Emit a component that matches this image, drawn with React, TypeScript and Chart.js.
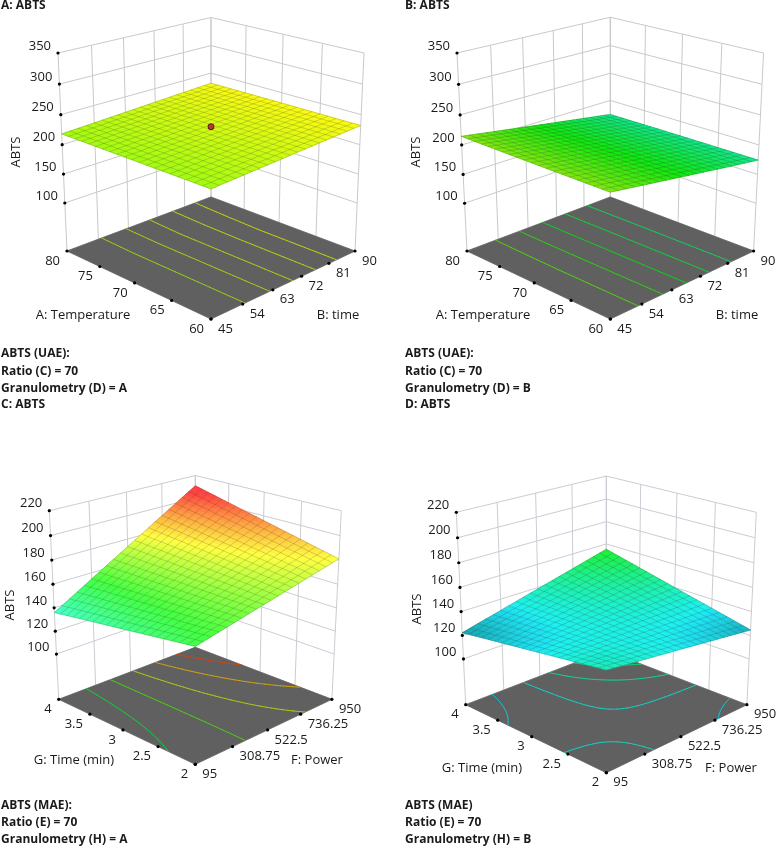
import React, { useEffect, useRef } from "react";
import { Chart, registerables } from "chart.js";

Chart.register(...registerables);

const temperatureTicks = [60, 65, 70, 75, 80];
const timeTicks = [45, 54, 63, 72, 81, 90];
const minutesTicks = [2, 2.5, 3, 3.5, 4];
const powerTicks = [95, 308.75, 522.5, 736.25, 950];
const abtsTicksUAE = [100, 150, 200, 250, 300, 350];
const abtsTicksMAE = [100, 120, 140, 160, 180, 200, 220];

// rows follow the first factor's ticks, columns the second factor's ticks
const surfaceA = [
  [218, 220.8, 223.6, 226.4, 229.2, 232],
  [218, 220.8, 223.6, 226.4, 229.2, 232],
  [218, 220.8, 223.6, 226.4, 229.2, 232],
  [218, 220.8, 223.6, 226.4, 229.1, 231.8],
  [218, 220.7, 223.5, 226.2, 229, 231.5],
];
const surfaceB = [
  [214, 206, 198, 190, 182, 174.5],
  [214, 206, 198, 190, 182, 174.5],
  [214, 206, 198, 190, 182, 174.5],
  [214.2, 206.1, 198, 190, 182, 174.3],
  [214.5, 206.3, 198.1, 190, 182, 174],
];
const surfaceC = [
  [153, 160, 167, 174, 181],
  [148.8, 158.7, 168.6, 178.6, 188.5],
  [144.5, 157.4, 170.3, 183.1, 196],
  [140.3, 156.1, 171.9, 187.7, 203.5],
  [136, 154.8, 173.5, 192.3, 211],
];
const surfaceD = [
  [139.7, 135.9, 132.2, 128.4, 124.6],
  [135.4, 134.6, 133.8, 133, 132.3],
  [131, 133.2, 135.5, 137.7, 139.9],
  [126.7, 131.9, 137.1, 142.3, 147.6],
  [122.3, 130.5, 138.8, 147, 155.2],
];
const contourLevelsA = [221, 223.3, 225.5, 227.8, 230];
const contourLevelsB = [207, 200.5, 194, 187.5, 181];
const contourLevelsC = [150, 162.5, 175, 187.5, 200];
const contourLevelsD = [128, 135, 141, 147];
const designPointA = { a: 70, b: 67.5, z: 230 };

const captionsTL = ["A: ABTS"];
const captionsTR = ["B: ABTS"];
const notesA = ["ABTS (UAE):", "Ratio (C) = 70", "Granulometry (D) = A", "C: ABTS"];
const notesB = ["ABTS (UAE):", "Ratio (C) = 70", "Granulometry (D) = B", "D: ABTS"];
const notesC = ["ABTS (MAE):", "Ratio (E) = 70", "Granulometry (H) = A"];
const notesD = ["ABTS (MAE)", "Ratio (E) = 70", "Granulometry (H) = B"];

const FONT = '"Open Sans"';
const TICK_FONT = `13px ${FONT}`;
const TITLE_FONT = `13px ${FONT}`;
const BOLD_FONT = `bold 12px ${FONT}`;

type P = { x: number; y: number };

type PanelCfg = {
  front: number[]; left: number[]; backY: number; topLeft: number[];
  zFloor: number; zTop: number;
  aTicks: number[]; bTicks: number[]; zTicks: number[];
  grid: number[][]; levels: number[];
  blue: number; step: number; gain: number; lift: number; wall: string;
  tMin: number; darkBelow: number; darkSpan: number; dark: number;
  aTitle: string; bTitle: string;
  aTitlePos: number[]; bTitlePos: number[]; zTitlePos: number[];
  notes: string[]; notesX: number; notesY: number[];
};

const panels: PanelCfg[] = [
  {
    front: [211, 319], left: [67, 251], backY: 197, topLeft: [58, 53], zFloor: 15, zTop: 350,
    aTicks: temperatureTicks, bTicks: timeTicks, zTicks: abtsTicksUAE, grid: surfaceA, levels: contourLevelsA,
    blue: 121, step: 37, gain: 0.92, lift: 0.06, wall: "#c9c9c9", tMin: 0, darkBelow: 0, darkSpan: 1, dark: 0,
    aTitle: "A: Temperature", bTitle: "B: time", aTitlePos: [83, 315], bTitlePos: [338, 315], zTitlePos: [16.5, 152],
    notes: notesA, notesX: 1, notesY: [354, 371.5, 389, 405],
  },
  {
    front: [610.3, 319], left: [467, 251], backY: 197, topLeft: [457, 53], zFloor: 15, zTop: 350,
    aTicks: temperatureTicks, bTicks: timeTicks, zTicks: abtsTicksUAE, grid: surfaceB, levels: contourLevelsB,
    blue: 121, step: 37, gain: 0.85, lift: 0.05, wall: "#c9c9c9", tMin: 0, darkBelow: 0, darkSpan: 1, dark: 0,
    aTitle: "A: Temperature", bTitle: "B: time", aTitlePos: [483, 315], bTitlePos: [737, 315], zTitlePos: [416, 152],
    notes: notesB, notesX: 405, notesY: [354, 371.5, 389, 405],
  },
  {
    front: [195.3, 764.3], left: [58.7, 699.3], backY: 647.3, topLeft: [49.3, 510.7], zFloor: 59.5, zTop: 220,
    aTicks: minutesTicks, bTicks: powerTicks, zTicks: abtsTicksMAE, grid: surfaceC, levels: contourLevelsC,
    blue: 103, step: 26, gain: 0.75, lift: 0.25, wall: "#cbcbd3", tMin: 0, darkBelow: 0, darkSpan: 1, dark: 0,
    aTitle: "G: Time (min)", bTitle: "F: Power", aTitlePos: [74, 760], bTitlePos: [317, 760], zTitlePos: [10.7, 605],
    notes: notesC, notesX: 1, notesY: [806, 823, 840],
  },
  {
    front: [606.3, 772.7], left: [465.7, 704.7], backY: 650.7, topLeft: [456.3, 512.3], zFloor: 60, zTop: 220,
    aTicks: minutesTicks, bTicks: powerTicks, zTicks: abtsTicksMAE, grid: surfaceD, levels: contourLevelsD,
    blue: 108, step: 25, gain: 0.84, lift: 0.1, wall: "#cbcbd3", tMin: 0.92, darkBelow: 131, darkSpan: 9, dark: 0.3,
    aTitle: "G: Time (min)", bTitle: "F: Power", aTitlePos: [482, 768], bTitlePos: [731, 768], zTitlePos: [417, 609],
    notes: notesD, notesX: 405, notesY: [806, 823, 840],
  },
];

function makeProjector(c: PanelCfg) {
  const F = c.front[1], L = c.left[1], B = c.backY, cx = c.front[0];
  const k = (2 * L - F - B) / (2 * (B - L));
  const p = L * (1 + k) - F;
  const W = (cx - c.left[0]) * (1 + k);
  const q = W / (cx - c.topLeft[0]);
  const m = q - 1 - k;
  const t = c.topLeft[1] * q - F - p;
  return (a: number, b: number, w: number): P => {
    const d = 1 + k * (a + b) + m * w;
    return { x: cx + (W * (b - a)) / d, y: (F + p * (a + b) + t * w) / d };
  };
}

function rainbow(t: number): number[] {
  const stops = [[0, 0, 255], [0, 255, 255], [0, 255, 0], [255, 255, 0], [255, 0, 0]];
  const v = Math.max(0, Math.min(3.999, t));
  const i = Math.floor(v), f = v - i;
  return stops[i].map((s, n) => s + (stops[i + 1][n] - s) * f);
}
function surfaceColor(c: PanelCfg, z: number) {
  const dim = 1 - c.dark * Math.max(0, Math.min(1, (c.darkBelow - z) / c.darkSpan));
  const t = Math.max(c.tMin, (z - c.blue) / c.step);
  const rgb = rainbow(t).map((v) => Math.round((v * c.gain + 255 * c.lift) * dim));
  return `rgb(${rgb[0]},${rgb[1]},${rgb[2]})`;
}
function lineColor(c: PanelCfg, z: number) {
  const rgb = rainbow(Math.max(c.tMin, (z - c.blue) / c.step)).map((v) => Math.round(v * 0.72 + 20));
  return `rgb(${rgb[0]},${rgb[1]},${rgb[2]})`;
}
function zAt(grid: number[][], a: number, b: number) {
  const ra = a * (grid.length - 1), rb = b * (grid[0].length - 1);
  const i = Math.min(grid.length - 2, Math.floor(ra)), j = Math.min(grid[0].length - 2, Math.floor(rb));
  const u = ra - i, v = rb - j;
  return (
    grid[i][j] * (1 - u) * (1 - v) + grid[i + 1][j] * u * (1 - v) +
    grid[i][j + 1] * (1 - u) * v + grid[i + 1][j + 1] * u * v
  );
}
const GAP: P = { x: NaN, y: NaN };
const frac = (ticks: number[], v: number) => (v - ticks[0]) / (ticks[ticks.length - 1] - ticks[0]);
// a non-empty dash keeps Chart.js off its x-sorted fast path, which would merge these unsorted segments
const SOLID = [100000, 0];

function buildPanel(c: PanelCfg) {
  const proj = makeProjector(c);
  const wOf = (z: number) => (z - c.zFloor) / (c.zTop - c.zFloor);
  const datasets: any[] = [];
  const labels: any[] = [];

  // walls
  const wall: P[] = [];
  const seg = (a: P, b: P) => wall.push(a, b, GAP);
  c.zTicks.forEach((z) => {
    const w = wOf(z);
    seg(proj(1, 0, w), proj(1, 1, w));
    seg(proj(1, 1, w), proj(0, 1, w));
  });
  c.bTicks.forEach((v) => { const b = frac(c.bTicks, v); seg(proj(1, b, 0), proj(1, b, 1)); });
  c.aTicks.forEach((v) => { const a = frac(c.aTicks, v); seg(proj(a, 1, 0), proj(a, 1, 1)); });
  datasets.push({ type: "scatter", data: wall, showLine: true, borderColor: c.wall, borderWidth: 1, borderDash: SOLID, pointRadius: 0 });

  // floor
  const floor = [proj(0, 0, 0), proj(1, 0, 0), proj(1, 1, 0), proj(0, 1, 0)];
  datasets.push({
    type: "scatter", data: [...floor, floor[0]], showLine: true, borderColor: "#606060", borderWidth: 0.5, borderDash: SOLID, pointRadius: 0,
    patches: [{ pts: floor, color: "#606060" }],
  });

  // floor contours
  const N = 40;
  c.levels.forEach((lv) => {
    const pts: P[] = [];
    for (let i = 0; i < N; i++) for (let j = 0; j < N; j++) {
      const a0 = i / N, a1 = (i + 1) / N, b0 = j / N, b1 = (j + 1) / N;
      const corners = [[a0, b0], [a1, b0], [a1, b1], [a0, b1]];
      const hits: P[] = [];
      for (let e = 0; e < 4; e++) {
        const s = corners[e], f = corners[(e + 1) % 4];
        const zs = zAt(c.grid, s[0], s[1]) - lv, zf = zAt(c.grid, f[0], f[1]) - lv;
        // classify by side, so a level that lands exactly on a node still yields both crossings
        if (zs >= 0 !== zf >= 0) {
          const r = zs / (zs - zf);
          hits.push(proj(s[0] + (f[0] - s[0]) * r, s[1] + (f[1] - s[1]) * r, 0));
        }
      }
      // descending x so Chart.js does not take the data for x-sorted and cut it to a "visible" slice
      if (hits.length >= 2) {
        if (hits[0].x >= hits[1].x) pts.push(hits[0], hits[1], GAP);
        else pts.push(hits[1], hits[0], GAP);
      }
    }
    datasets.push({
      type: "scatter", data: pts, showLine: true, borderColor: lineColor(c, lv), borderWidth: 1,
      borderDash: SOLID, borderCapStyle: "round", pointRadius: 0,
    });
  });

  // surface fill + mesh
  const CELLS = 20, SUB = 2, M = CELLS * SUB;
  const patches: any[] = [];
  const sp = (a: number, b: number) => proj(a, b, wOf(zAt(c.grid, a, b)));
  for (let i = 0; i < M; i++) for (let j = 0; j < M; j++) {
    const a0 = i / M, a1 = (i + 1) / M, b0 = j / M, b1 = (j + 1) / M;
    patches.push({
      pts: [sp(a0, b0), sp(a1, b0), sp(a1, b1), sp(a0, b1)],
      color: surfaceColor(c, zAt(c.grid, (a0 + a1) / 2, (b0 + b1) / 2)),
    });
  }
  const mesh: P[] = [];
  for (let i = 0; i <= CELLS; i++) {
    for (let j = 0; j <= CELLS; j++) mesh.push(sp(j / CELLS, i / CELLS));
    mesh.push(GAP);
    for (let j = 0; j <= CELLS; j++) mesh.push(sp(i / CELLS, j / CELLS));
    mesh.push(GAP);
  }
  datasets.push({
    type: "scatter", data: mesh, showLine: true, borderColor: "rgba(40,40,20,0.24)", borderWidth: 0.8,
    borderDash: SOLID, pointRadius: 0, patches,
  });

  // tick dots and labels
  const dots: P[] = [];
  c.zTicks.forEach((z) => {
    const d = proj(1, 0, wOf(z));
    dots.push(d);
    labels.push({ text: String(z), x: d.x - 7, y: d.y - 7, align: "right", font: TICK_FONT });
  });
  c.aTicks.forEach((v) => {
    const d = proj(frac(c.aTicks, v), 0, 0);
    dots.push(d);
    labels.push({ text: String(v), x: d.x - 7, y: d.y + 10, align: "right", font: TICK_FONT });
  });
  c.bTicks.forEach((v) => {
    const d = proj(0, frac(c.bTicks, v), 0);
    dots.push(d);
    labels.push({ text: String(v), x: d.x + 7, y: d.y + 10, align: "left", font: TICK_FONT });
  });
  datasets.push({ type: "scatter", data: dots, showLine: false, pointRadius: 1.6, pointBackgroundColor: "#000", pointBorderWidth: 0 });

  labels.push({ text: c.aTitle, x: c.aTitlePos[0], y: c.aTitlePos[1], align: "center", font: TITLE_FONT });
  labels.push({ text: c.bTitle, x: c.bTitlePos[0], y: c.bTitlePos[1], align: "center", font: TITLE_FONT });
  labels.push({ text: "ABTS", x: c.zTitlePos[0], y: c.zTitlePos[1], align: "center", font: TITLE_FONT, rotate: -Math.PI / 2 });
  c.notes.forEach((t, i) => labels.push({ text: t, x: c.notesX, y: c.notesY[i], align: "left", font: BOLD_FONT }));

  return { datasets, labels, proj, wOf };
}

const surfacePlugin = {
  id: "surfacePlugin",
  beforeDatasetDraw(chart: any, args: any) {
    const ds = chart.data.datasets[args.index];
    if (!ds.patches) return;
    const { ctx, scales } = chart;
    ctx.save();
    ctx.lineWidth = 0.6;
    ctx.lineJoin = "round";
    ds.patches.forEach((pa: any) => {
      ctx.beginPath();
      pa.pts.forEach((pt: P, i: number) => {
        const x = scales.x.getPixelForValue(pt.x), y = scales.y.getPixelForValue(pt.y);
        if (i) ctx.lineTo(x, y); else ctx.moveTo(x, y);
      });
      ctx.closePath();
      ctx.fillStyle = pa.color;
      ctx.strokeStyle = pa.color;
      ctx.fill();
      ctx.stroke();
    });
    ctx.restore();
  },
  afterDraw(chart: any) {
    const { ctx, scales } = chart;
    const items = chart.options.plugins.surfacePlugin.labels;
    ctx.save();
    ctx.textBaseline = "middle";
    items.forEach((l: any) => {
      ctx.save();
      ctx.font = l.font;
      ctx.fillStyle = l.color || "#1a1a1a";
      ctx.textAlign = l.align;
      ctx.translate(scales.x.getPixelForValue(l.x), scales.y.getPixelForValue(l.y));
      if (l.rotate) ctx.rotate(l.rotate);
      ctx.fillText(l.text, 0, 0);
      ctx.restore();
    });
    ctx.restore();
  },
};

export default function App() {
  const ref = useRef<HTMLCanvasElement>(null);
  useEffect(() => {
    const built = panels.map(buildPanel);
    const all: any[] = [];
    const labels: any[] = [];
    built.forEach((b) => { all.push(...b.datasets); labels.push(...b.labels); });
    // design point on panel A
    const pa = built[0], cA = panels[0];
    all.push({
      type: "scatter", showLine: false, pointRadius: 3, pointBorderWidth: 1,
      pointBackgroundColor: "#c83030", pointBorderColor: "#3a2020",
      data: [pa.proj(frac(cA.aTicks, designPointA.a), frac(cA.bTicks, designPointA.b), pa.wOf(designPointA.z))],
    });
    labels.push({ text: captionsTL[0], x: 1, y: 6, align: "left", font: BOLD_FONT });
    labels.push({ text: captionsTR[0], x: 405, y: 6, align: "left", font: BOLD_FONT });

    // chart.js paints the first dataset last, so reverse the painter's order
    const chart = new Chart(ref.current as HTMLCanvasElement, {
      type: "scatter",
      data: { datasets: all.reverse() },
      plugins: [surfacePlugin as any],
      options: {
        animation: false,
        responsive: false,
        events: [],
        layout: { padding: 0, autoPadding: false },
        scales: {
          x: { type: "linear", min: 0, max: 776, display: false },
          y: { type: "linear", min: 0, max: 849, reverse: true, display: false },
        },
        plugins: {
          legend: { display: false },
          title: { display: false },
          tooltip: { enabled: false },
          surfacePlugin: { labels },
        } as any,
      },
    });
    return () => chart.destroy();
  }, []);
  return (
    <div style={{ position: "absolute", left: 0, top: 0, width: 776, height: 849, background: "#fff" }}>
      <canvas ref={ref} width={776} height={849} style={{ display: "block" }} />
    </div>
  );
}
